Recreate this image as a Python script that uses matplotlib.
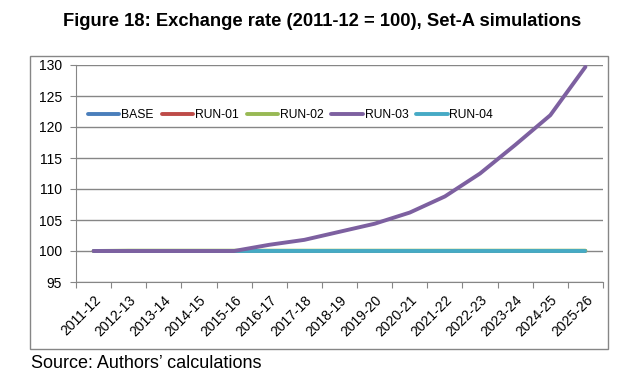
import matplotlib.pyplot as plt
from matplotlib.patches import Rectangle

years = ["2011-12", "2012-13", "2013-14", "2014-15", "2015-16", "2016-17", "2017-18",
         "2018-19", "2019-20", "2020-21", "2021-22", "2022-23", "2023-24", "2024-25", "2025-26"]
base = [100.0] * 15
run01 = [100.0] * 15
run02 = [100.0, 100.05, 100.05, 100.05, 100.05, 100.05, 100.05, 100.05, 100.05, 100.05, 100.05, 100.05, 100.05, 100.05, 100.05]
run03 = [100.0, 100.0, 100.0, 100.0, 100.0, 101.0, 101.8, 103.1, 104.4, 106.2, 108.8, 112.5, 117.1, 121.9, 129.7]
run04 = [100.0] * 15

series = [("BASE", base, "#4a7ebb"), ("RUN-01", run01, "#be4b48"), ("RUN-02", run02, "#98b954"),
          ("RUN-03", run03, "#7d60a0"), ("RUN-04", run04, "#46aac5")]

plt.rcParams['font.family'] = ['Liberation Sans', 'DejaVu Sans']
W, H = 644, 389
fig = plt.figure(figsize=(W / 100, H / 100), dpi=100)

# outer chart border
fig.patches.append(Rectangle((30 / W, 1 - 349 / H), (608 - 30) / W, (349 - 56) / H,
                             transform=fig.transFigure, fill=False, edgecolor="#868686", lw=1))

ax = fig.add_axes([76 / W, 1 - 282 / H, (603 - 76) / W, (282 - 65) / H])
x = list(range(len(years)))
handles = {}
zorders = {"BASE": 2, "RUN-01": 3, "RUN-02": 4, "RUN-03": 6, "RUN-04": 5}
for name, vals, col in series:
    h, = ax.plot(x, vals, color=col, lw=2.8, solid_capstyle='round', zorder=zorders[name], label=name)
    handles[name] = h

ax.set_xlim(-0.5, 14.5)
ax.set_ylim(95, 130)
ax.set_yticks(range(95, 131, 5))
ax.set_xticks([i - 0.5 for i in range(16)], minor=False)
ax.set_xticklabels([])
ax.set_xticks(x, minor=True)
ax.set_xticklabels(years, minor=True, rotation=45, ha='right', rotation_mode='anchor', fontsize=10)
ax.tick_params(axis='x', which='major', length=4, color="#868686")
ax.tick_params(axis='x', which='minor', length=0, pad=8)
ax.tick_params(axis='y', length=4, color="#868686", labelsize=10, pad=6)
ax.grid(axis='y', color="#868686", lw=1)
ax.set_axisbelow(True)
for s in ['top', 'right']:
    ax.spines[s].set_visible(False)
for s in ['left', 'bottom']:
    ax.spines[s].set_color("#868686")

names = ["BASE", "RUN-01", "RUN-02", "RUN-03", "RUN-04"]
ax.legend([handles[n] for n in names], names,
          loc='center left', bbox_to_anchor=(0.0, 0.77),
          ncol=5, frameon=False, fontsize=8.7, handlelength=2.6, handletextpad=0.15,
          columnspacing=0.65, borderaxespad=0.6)

fig.text(322 / W, 1 - 22 / H, "Figure 18: Exchange rate (2011-12 = 100), Set-A simulations",
         ha='center', va='center', fontsize=13.2, fontweight='bold')
fig.text(31 / W, 1 - 363 / H, "Source: Authors\u2019 calculations", ha='left', va='center', fontsize=13)

fig.savefig("out.png", dpi=100)
